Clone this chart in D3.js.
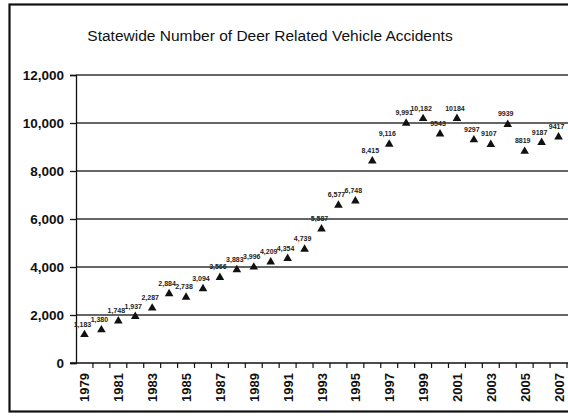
<!DOCTYPE html>
<html>
<head>
<meta charset="utf-8">
<script src="https://cdn.jsdelivr.net/npm/d3@7"></script>
<style>
  html, body { margin: 0; padding: 0; background: #fff; }
  svg { display: block; font-family: "Liberation Sans", Arial, sans-serif; }
</style>
</head>
<body>
<svg id="chart" width="568" height="420"></svg>
<script>
// Deer related vehicle accidents per year
const years = [1979, 1980, 1981, 1982, 1983, 1984, 1985, 1986, 1987, 1988,
               1989, 1990, 1991, 1992, 1993, 1994, 1995, 1996, 1997, 1998,
               1999, 2000, 2001, 2002, 2003, 2004, 2005, 2006, 2007];
const accidents = [1183, 1380, 1748, 1937, 2287, 2884, 2738, 3094, 3566, 3883,
                   3996, 4209, 4354, 4739, 5587, 6577, 6748, 8415, 9116, 9991,
                   10182, 9543, 10184, 9297, 9107, 9939, 8819, 9187, 9417];
const yTicks = [0, 2000, 4000, 6000, 8000, 10000, 12000];
const xTickLabels = years.filter((y, i) => i % 2 === 0);
const title = "Statewide Number of Deer Related Vehicle Accidents";

const svg = d3.select("#chart");
const W = 568, H = 420;
const plot = { left: 76, right: 567, top: 75, bottom: 363 };

svg.append("rect").attr("width", W).attr("height", H).attr("fill", "#fff");

// outer frame
svg.append("rect")
  .attr("x", 9.5).attr("y", 4.5)
  .attr("width", 570).attr("height", 407)
  .attr("fill", "none").attr("stroke", "#111").attr("stroke-width", 2.2);

svg.append("text")
  .attr("x", 270).attr("y", 41)
  .attr("text-anchor", "middle")
  .attr("font-size", 15.5)
  .attr("fill", "#111")
  .text(title);

const x = d3.scaleBand().domain(years).range([plot.left, plot.right]);
const y = d3.scaleLinear().domain([0, 12000]).range([plot.bottom, plot.top]);

// horizontal gridlines
svg.append("g")
  .selectAll("line")
  .data(yTicks.filter(d => d > 0))
  .join("line")
  .attr("x1", plot.left).attr("x2", W)
  .attr("y1", d => y(d)).attr("y2", d => y(d))
  .attr("stroke", "#333").attr("stroke-width", 1.6);

// y axis
const yAxis = svg.append("g")
  .attr("transform", `translate(${plot.left},0)`)
  .call(d3.axisLeft(y).tickValues(yTicks).tickFormat(d3.format(",")).tickSize(6).tickPadding(6));
yAxis.select(".domain").attr("stroke", "#111").attr("stroke-width", 1.3);
yAxis.selectAll(".tick line").attr("stroke", "#111").attr("stroke-width", 1.3);
yAxis.selectAll(".tick text")
  .attr("font-size", 13.5).attr("font-weight", "bold").attr("fill", "#111")
  .attr("font-family", "'Liberation Sans', Arial, sans-serif");

// x axis: ticks at category boundaries, labels every other year
const xg = svg.append("g").attr("transform", `translate(0,${plot.bottom})`);
xg.append("line")
  .attr("x1", plot.left - 6).attr("x2", W)
  .attr("stroke", "#111").attr("stroke-width", 1.6);
xg.selectAll("line.tk")
  .data(years)
  .join("line")
  .attr("class", "tk")
  .attr("x1", d => x(d) + x.bandwidth()).attr("x2", d => x(d) + x.bandwidth())
  .attr("y1", 0).attr("y2", 5)
  .attr("stroke", "#111").attr("stroke-width", 1.2);
xg.selectAll("text")
  .data(xTickLabels)
  .join("text")
  .attr("transform", d => `translate(${x(d) + x.bandwidth() / 2 + 5},10) rotate(-90)`)
  .attr("text-anchor", "end")
  .attr("font-size", 13).attr("font-weight", "bold").attr("fill", "#111")
  .text(d => d);

// triangle markers
const tri = d3.symbol().type(d3.symbolTriangle).size(32);
svg.append("g")
  .selectAll("path")
  .data(years.map((yr, i) => ({ yr, v: accidents[i] })))
  .join("path")
  .attr("d", tri)
  .attr("transform", d => `translate(${x(d.yr) + x.bandwidth() / 2},${y(d.v)})`)
  .attr("fill", "#111");

// value labels
const fmt = (yr, v) => yr < 2000 ? d3.format(",")(v) : String(v);
svg.append("g")
  .selectAll("text")
  .data(years.map((yr, i) => ({ yr, v: accidents[i] })))
  .join("text")
  .attr("x", d => x(d.yr) + x.bandwidth() / 2 - 2)
  .attr("y", d => y(d.v) - 8)
  .attr("text-anchor", "middle")
  .attr("font-size", 7).attr("font-weight", "bold").attr("fill", "#222")
  .text(d => fmt(d.yr, d.v));
</script>
</body>
</html>
